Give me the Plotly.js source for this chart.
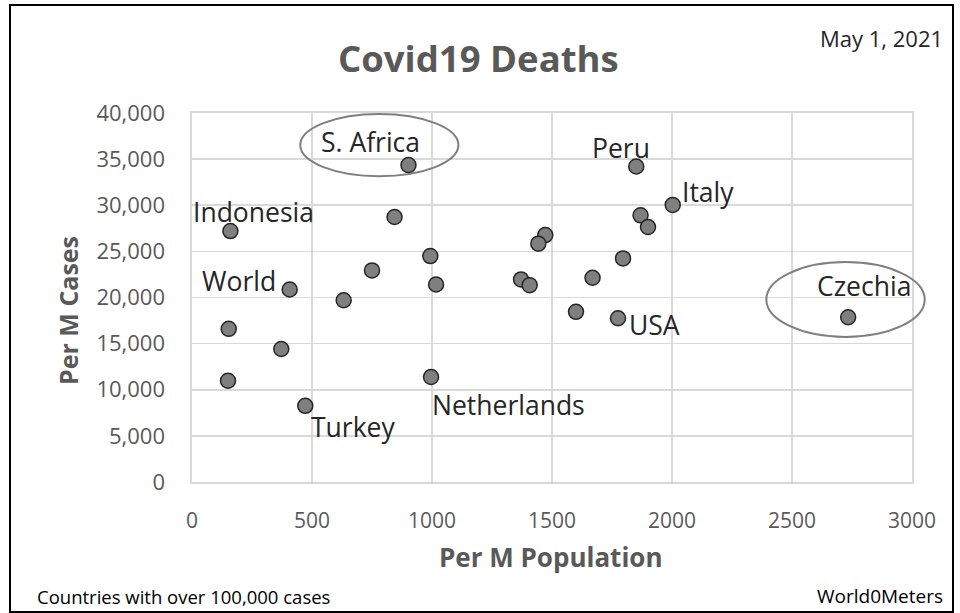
<!DOCTYPE html>
<html>
<head>
<meta charset="utf-8">
<script src="https://cdn.plot.ly/plotly-3.0.1.min.js"></script>
<style>html,body{margin:0;padding:0;background:#fff;}#chart{width:960px;height:613px;}</style>
</head>
<body>
<div id="chart"></div>
<script>
// Deaths per million population (x) vs cases per million (y), May 1 2021
const deathsPerM = [160, 902, 844, 993, 750, 1017, 407, 632, 153, 372, 150, 996, 472,
                    1851, 2003, 1869, 1900, 1472, 1443, 1796, 1371, 1407, 1669, 1600, 1775, 2734];
const casesPerM  = [27200, 34350, 28730, 24490, 22940, 21410, 20870, 19700, 16600, 14420, 10980, 11380, 8260,
                    34200, 30040, 28910, 27640, 26770, 25840, 24240, 21960, 21340, 22140, 18450, 17750, 17860];
const pointLabels = ["Indonesia", "S. Africa", "", "", "", "", "World", "", "", "", "", "Netherlands", "Turkey",
                     "Peru", "Italy", "", "", "", "", "", "", "", "", "", "USA", "Czechia"];
// label offsets in pixels relative to the point (dx right, dy up)
const labelDx = {"Indonesia": 23, "S. Africa": -38, "World": -51, "Netherlands": 77, "Turkey": 48,
                 "Peru": -15, "Italy": 35, "USA": 36, "Czechia": 16};
const labelDy = {"Indonesia": 19, "S. Africa": 23, "World": 8, "Netherlands": -28, "Turkey": -21,
                 "Peru": 19, "Italy": 13, "USA": -7, "Czechia": 31};
const xTickVals = [0, 500, 1000, 1500, 2000, 2500, 3000];
const yTickVals = [0, 5000, 10000, 15000, 20000, 25000, 30000, 35000, 40000];
const xRange = [0, 3000];
const yRange = [0, 40000];
// highlighted regions (data units)
const highlightX = [[451, 1110], [2393, 3053]];
const highlightY = [[33150, 39890], [15730, 23840]];

const FONT = '"Open Sans", "Noto Sans", sans-serif';
const GREY = '#595959';

const trace = {
  type: 'scatter', mode: 'markers',
  x: deathsPerM, y: casesPerM,
  marker: {size: 15, color: '#7f7f7f', line: {color: '#262626', width: 1.5}},
  hoverinfo: 'x+y', showlegend: false, cliponaxis: false
};

const annotations = [];
pointLabels.forEach((lab, i) => {
  if (!lab) return;
  annotations.push({
    x: deathsPerM[i], y: casesPerM[i], xref: 'x', yref: 'y', text: lab, showarrow: false,
    xshift: labelDx[lab], yshift: labelDy[lab],
    font: {family: FONT, size: 26.5, color: '#262626'}
  });
});
// plot pixel geometry helpers for text placement
const L = 192, R = 48, T = 113, B = 131, W = 960, H = 613;
const pw = W - L - R, ph = H - T - B;
const px = v => (v - L) / pw;
const py = v => (H - B - v) / ph;

annotations.push(
  {xref: 'paper', yref: 'paper', x: px(478), y: py(58), text: '<b>Covid19 Deaths</b>', showarrow: false,
   xanchor: 'center', yanchor: 'middle', font: {family: FONT, size: 36.5, color: GREY}},
  {xref: 'paper', yref: 'paper', x: px(945), y: py(38), text: 'May 1, 2021', showarrow: false,
   xanchor: 'right', yanchor: 'middle', font: {family: FONT, size: 22, color: '#262626'}},
  {xref: 'paper', yref: 'paper', x: px(551), y: py(557), text: '<b>Per M Population</b>', showarrow: false,
   xanchor: 'center', yanchor: 'middle', font: {family: FONT, size: 26, color: GREY}},
  {xref: 'paper', yref: 'paper', x: px(68), y: py(311), text: '<b>Per M Cases</b>', showarrow: false,
   textangle: -90, xanchor: 'center', yanchor: 'middle', font: {family: FONT, size: 25, color: GREY}},
  {xref: 'paper', yref: 'paper', x: px(35), y: py(596), text: 'Countries with over 100,000 cases', showarrow: false,
   xanchor: 'left', yanchor: 'middle', font: {family: FONT, size: 18.5, color: '#000'}},
  {xref: 'paper', yref: 'paper', x: px(945), y: py(596), text: 'World0Meters', showarrow: false,
   xanchor: 'right', yanchor: 'middle', font: {family: FONT, size: 19, color: '#000'}}
);

const shapes = [
  {type: 'rect', xref: 'paper', yref: 'paper', x0: px(10), x1: px(953), y0: py(612), y1: py(5),
   line: {color: '#000', width: 2}, layer: 'below'}
];
highlightX.forEach((hx, i) => {
  shapes.push({type: 'circle', xref: 'paper', yref: 'paper',
    x0: hx[0] / xRange[1], x1: hx[1] / xRange[1],
    y0: highlightY[i][0] / yRange[1], y1: highlightY[i][1] / yRange[1],
    line: {color: '#7f7f7f', width: 2}, layer: 'above'});
});

const axisCommon = {showgrid: true, gridcolor: '#d9d9d9', gridwidth: 1.6,
  zeroline: false, showline: true, linecolor: '#d9d9d9', linewidth: 1.6, mirror: true,
  ticks: '', fixedrange: true};

const layout = {
  width: W, height: H,
  margin: {l: L, r: R, t: T, b: B, pad: 0},
  paper_bgcolor: '#fff', plot_bgcolor: '#fff',
  font: {family: FONT, color: GREY},
  xaxis: Object.assign({range: xRange, tickvals: xTickVals, tickformat: 'd', ticklabelstandoff: 19,
          tickfont: {family: FONT, size: 21, color: GREY}}, axisCommon),
  yaxis: Object.assign({range: yRange, tickvals: yTickVals, tickformat: ',d', ticklabelstandoff: 21,
          tickfont: {family: FONT, size: 22, color: GREY}}, axisCommon),
  annotations: annotations,
  shapes: shapes,
  showlegend: false
};

Plotly.newPlot('chart', [trace], layout, {displayModeBar: false, staticPlot: true});
</script>
</body>
</html>
